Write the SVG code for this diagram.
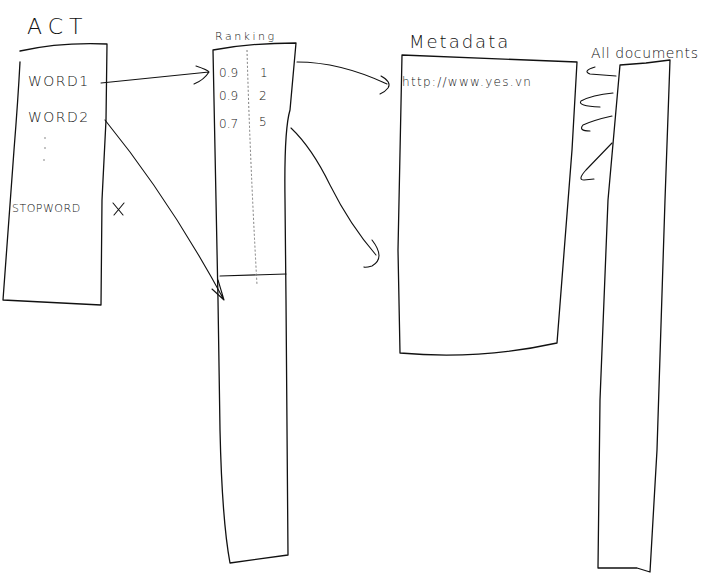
<svg xmlns="http://www.w3.org/2000/svg" width="712" height="588" viewBox="0 0 712 588">
<style>
.b{fill:none;stroke:#111;stroke-width:1.3;stroke-linecap:round;stroke-linejoin:round}
.g{fill:none;stroke:#777;stroke-width:1;stroke-dasharray:2 2}
.c{fill:none;stroke:#111;stroke-width:1.1;stroke-linecap:round;stroke-linejoin:round}
.t{font-family:"DejaVu Sans","Liberation Sans",sans-serif;fill:#111;font-weight:300}
</style>
<rect width="712" height="588" fill="#fff"/>
<g id="act">
<text class="t" x="27" y="34" font-size="22" letter-spacing="6">ACT</text>
<path class="b" d="M20,51 Q60,42 107,44 L106,120 L102,200 L101,305 L3,300 Q10,200 14,150 Q18,100 20,62"/>
<text class="t" x="28" y="86" font-size="14" letter-spacing="1.5">WORD1</text>
<text class="t" x="28" y="122" font-size="14" letter-spacing="1.5">WORD2</text>
<circle cx="45" cy="138" r="0.8" fill="#777"/><circle cx="45" cy="148" r="0.8" fill="#777"/><circle cx="44" cy="160" r="0.8" fill="#777"/>
<text class="t" x="12" y="212" font-size="11" letter-spacing="0.5">STOPWORD</text>
<path class="c" d="M113,203 L123,215 M114,215 L124,203"/>
</g>
<g id="ranking">
<text class="t" x="215" y="40" font-size="11" letter-spacing="2.5">Ranking</text>
<path class="b" d="M213,50 Q250,43 296,43 L290,110 Q284,130 285,200 L286,300 L288,555 L230,563 Q222,520 220,430 L218,300 L216,200 L213,50"/>
<path class="c" d="M220,276 L286,274"/>
<path class="g" d="M247,50 Q250,160 257,285"/>
<text class="t" x="219" y="77" font-size="12">0.9</text>
<text class="t" x="260" y="77" font-size="12">1</text>
<text class="t" x="219" y="100" font-size="12">0.9</text>
<text class="t" x="259" y="100" font-size="12">2</text>
<text class="t" x="219" y="128" font-size="12">0.7</text>
<text class="t" x="259" y="126" font-size="12">5</text>
</g>
<g id="metadata">
<text class="t" x="409" y="48" font-size="18" letter-spacing="2">Metadata</text>
<path class="b" d="M402,55 L577,62 L572,150 L557,343 Q480,360 400,353 L398,250 L402,55"/>
<text class="t" x="402" y="86" font-size="12" letter-spacing="1.3">http://www.yes.vn</text>
</g>
<g id="alldocs">
<text class="t" x="591" y="58" font-size="14" letter-spacing="0.6">All documents</text>
<path class="b" d="M620,65 L646,63 L670,60 L665,200 L657,450 L650,572 L637,568 L598,568 L600,400 L608,200 L620,65"/>
</g>
<g id="connectors">
<path class="c" d="M101,83 L209,72 M196,66 Q208,70 209,72 Q204,80 194,84"/>
<path class="c" d="M105,120 Q170,200 224,300 M212,289 L224,300 L218,280"/>
<path class="c" d="M297,62 Q340,62 387,84 M381,76 Q392,82 388,88 Q385,92 380,94"/>
<path class="c" d="M291,128 Q312,148 330,185 Q350,225 376,255 M372,240 Q386,258 372,266 Q365,268 364,267"/>
<path class="c" d="M616,76 L590,74 Q582,71 595,67"/>
<path class="c" d="M613,93 Q592,95 581,101 Q577,106 600,107"/>
<path class="c" d="M612,116 Q594,120 583,125 Q578,131 590,131"/>
<path class="c" d="M612,143 L586,170 Q577,180 584,180 L594,179"/>
</g>
</svg>
